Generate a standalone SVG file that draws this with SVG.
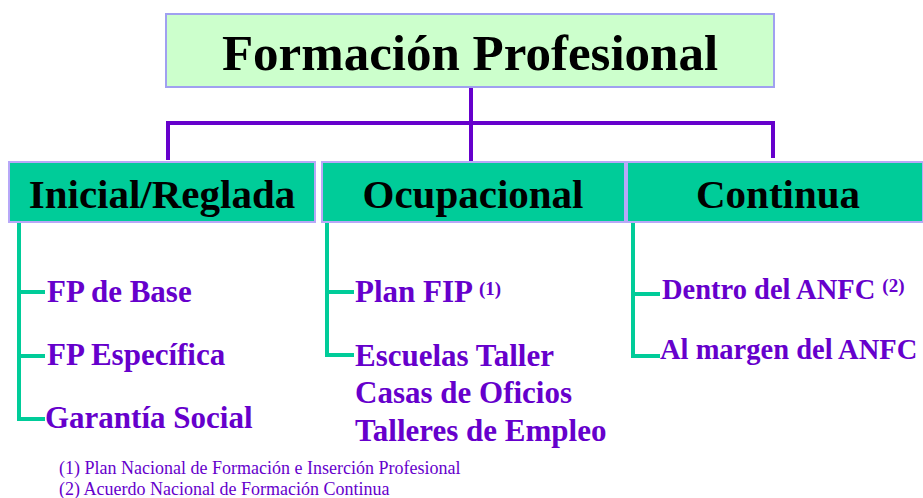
<svg xmlns="http://www.w3.org/2000/svg" width="923" height="498" viewBox="0 0 923 498">
<style>
.top{fill:#CCFFCC;stroke:#A0A0F0;stroke-width:2}
.cat{fill:#00CC99;stroke:#B8A8F8;stroke-width:2}
.title{font-family:"Liberation Serif",serif;font-weight:bold;font-size:51px;fill:#000;text-anchor:middle}
.cattxt{font-family:"Liberation Serif",serif;font-weight:bold;font-size:41px;fill:#000;text-anchor:middle}
.item{font-family:"Liberation Serif",serif;font-weight:bold;font-size:31px;fill:#6600CC}
.item2{font-family:"Liberation Serif",serif;font-weight:bold;font-size:28.5px;fill:#6600CC}
.sup{font-size:19px}
.note{font-family:"Liberation Serif",serif;font-size:18px;fill:#6600CC}
.pl{stroke:#6600CC;stroke-width:4;fill:none}
.gl{stroke:#00CC99;stroke-width:4;fill:none}
</style>
<g id="connectors">
<path class="pl" d="M471 88 V162 M166 123 H775 M168 121 V160 M773 121 V158"/>
<path class="gl" d="M19 222 V420 M17 292 H45 M17 356 H45 M17 419 H45"/>
<path class="gl" d="M327 222 V355 M325 292 H354 M325 355 H354"/>
<path class="gl" d="M633 222 V357 M631 294 H660 M631 356 H660"/>
</g>
<g id="root">
<rect class="top" x="166" y="14" width="608" height="73"/>
<text class="title" x="470" y="70">Formación Profesional</text>
</g>
<g id="inicial">
<rect class="cat" x="9" y="162" width="306" height="60"/>
<text class="cattxt" x="162" y="208">Inicial/Reglada</text>
</g>
<g id="ocupacional">
<rect class="cat" x="322" y="162" width="303" height="60"/>
<text class="cattxt" x="473" y="208">Ocupacional</text>
</g>
<g id="continua">
<rect class="cat" x="627" y="162" width="296" height="60"/>
<text class="cattxt" x="778" y="208">Continua</text>
</g>
<g id="fp-base"><text class="item" x="47" y="302">FP de Base</text></g>
<g id="fp-especifica"><text class="item" x="47" y="365">FP Específica</text></g>
<g id="garantia"><text class="item" x="45" y="428">Garantía Social</text></g>
<g id="plan-fip"><text class="item" x="355" y="302">Plan FIP <tspan class="sup" dy="-7">(1)</tspan></text></g>
<g id="escuelas">
<text class="item" x="355" y="366">Escuelas Taller</text>
<text class="item" x="355" y="403">Casas de Oficios</text>
<text class="item" x="355" y="441">Talleres de Empleo</text>
</g>
<g id="dentro"><text class="item2" x="662" y="299">Dentro del ANFC <tspan class="sup" dy="-7">(2)</tspan></text></g>
<g id="margen"><text class="item2" x="660" y="359">Al margen del ANFC</text></g>
<g id="notes">
<text class="note" x="59" y="474">(1) Plan Nacional de Formación e Inserción Profesional</text>
<text class="note" x="59" y="495">(2) Acuerdo Nacional de Formación Continua</text>
</g>
</svg>
